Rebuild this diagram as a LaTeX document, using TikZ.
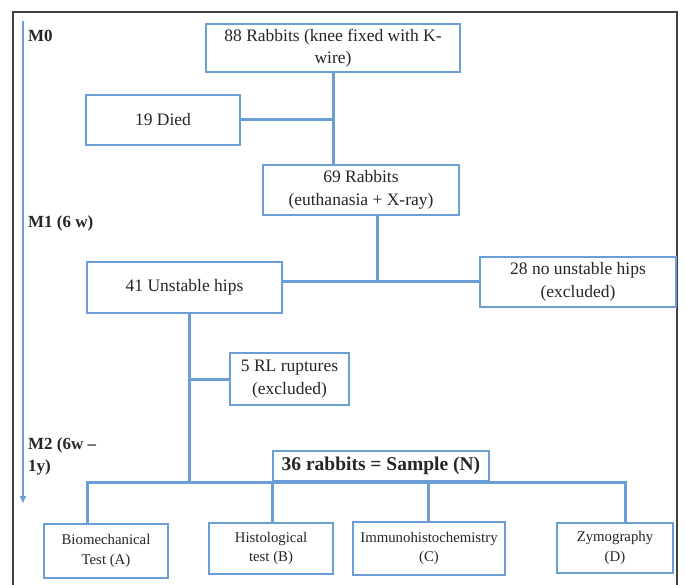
\documentclass[tikz,border=0pt]{standalone}
\usepackage{fontspec}
\setmainfont{Liberation Serif}
\usetikzlibrary{arrows.meta}
\definecolor{bl}{RGB}{108,158,214}
\definecolor{tx}{RGB}{38,38,38}
\definecolor{fr}{RGB}{64,64,64}
\tikzset{
  box/.style={draw=bl, line width=1.8pt, fill=white, inner sep=0pt, align=center, text=tx,
    font=\fontsize{17.5}{22.5}\selectfont},
  smallbox/.style={box, font=\fontsize{14.8}{19.5}\selectfont},
  conn/.style={draw=bl, line width=3pt},
  lab/.style={anchor=west, inner sep=0pt, text=tx, font=\bfseries\fontsize{17}{22}\selectfont, align=left},
}
\begin{document}
\begin{tikzpicture}[x=1pt,y=-1pt]
\useasboundingbox (0,0) rectangle (685,585);
\draw[fr, line width=1.5pt] (13,586) -- (13,12) -- (677,12) -- (677,586);

% timeline
\coordinate (tstart) at (23,21);
\coordinate (tend) at (23,504);
\draw[bl, line width=1.8pt, -{Latex[length=8pt,width=7pt]}] (tstart) -- (tend);
\node[lab] (m0) at (28,36) {M0};
\node[lab] (m1) at (28,223) {M1 (6 w)};
\node[lab] (m2) at (28,456) {M2 (6w –\\1y)};

% boxes
\node[box, minimum width=254pt, minimum height=48pt] (n88) at (333,48) {88 Rabbits (knee fixed with K-\\wire)};
\node[box, minimum width=154pt, minimum height=50pt] (died) at (163,120) {19 Died};
\node[box, minimum width=196pt, minimum height=50pt] (n69) at (361,190) {69 Rabbits\\(euthanasia + X-ray)};
\node[box, minimum width=195pt, minimum height=51pt] (uns) at (184.5,287.5) {41 Unstable hips};
\node[box, minimum width=196pt, minimum height=50pt] (nouns) at (578,282) {28 no unstable hips\\(excluded)};
\node[box, minimum width=119pt, minimum height=52pt] (rl) at (289.5,379) {5 RL ruptures\\(excluded)};

% connectors upper
\draw[conn] (n88.south) -- (n88.south |- n69.north);
\draw[conn] (died.east) -- (died.east -| n88.south);
\coordinate (j2) at (377,282);
\draw[conn] (j2 |- n69.south) -- (j2);
\draw[conn] (uns.east |- j2) -- (nouns.west |- j2);
\coordinate (j3) at (189,482);
\draw[conn] (j3 |- uns.south) -- (j3);
\draw[conn] (j3 |- rl.west) -- (rl.west);

% bottom boxes
\node[smallbox, minimum width=124pt, minimum height=54pt] (A) at (106,551) {Biomechanical\\Test (A)};
\node[smallbox, minimum width=124pt, minimum height=51pt] (B) at (271,548.5) {Histological\\test (B)};
\node[smallbox, minimum width=152pt, minimum height=53pt] (C) at (429,548.5) {Immunohistochemistry\\(C)};
\node[smallbox, minimum width=116pt, minimum height=50pt] (D) at (615,548) {Zymography\\(D)};

% bus
\coordinate (bA) at (87,482);
\coordinate (bB) at (272,482);
\coordinate (bC) at (428,482);
\coordinate (bD) at (625,482);
\node[box, minimum width=216pt, minimum height=30pt, font=\bfseries\fontsize{19.5}{22}\selectfont, anchor=south west] (sample) at (bB) {36 rabbits = Sample (N)};
\draw[conn] (bA |- A.north) -- (bA) -- (bD) -- (bD |- D.north);
\draw[conn] (bB) -- (bB |- B.north);
\draw[conn] (bC) -- (bC |- C.north);
\end{tikzpicture}
\end{document}
